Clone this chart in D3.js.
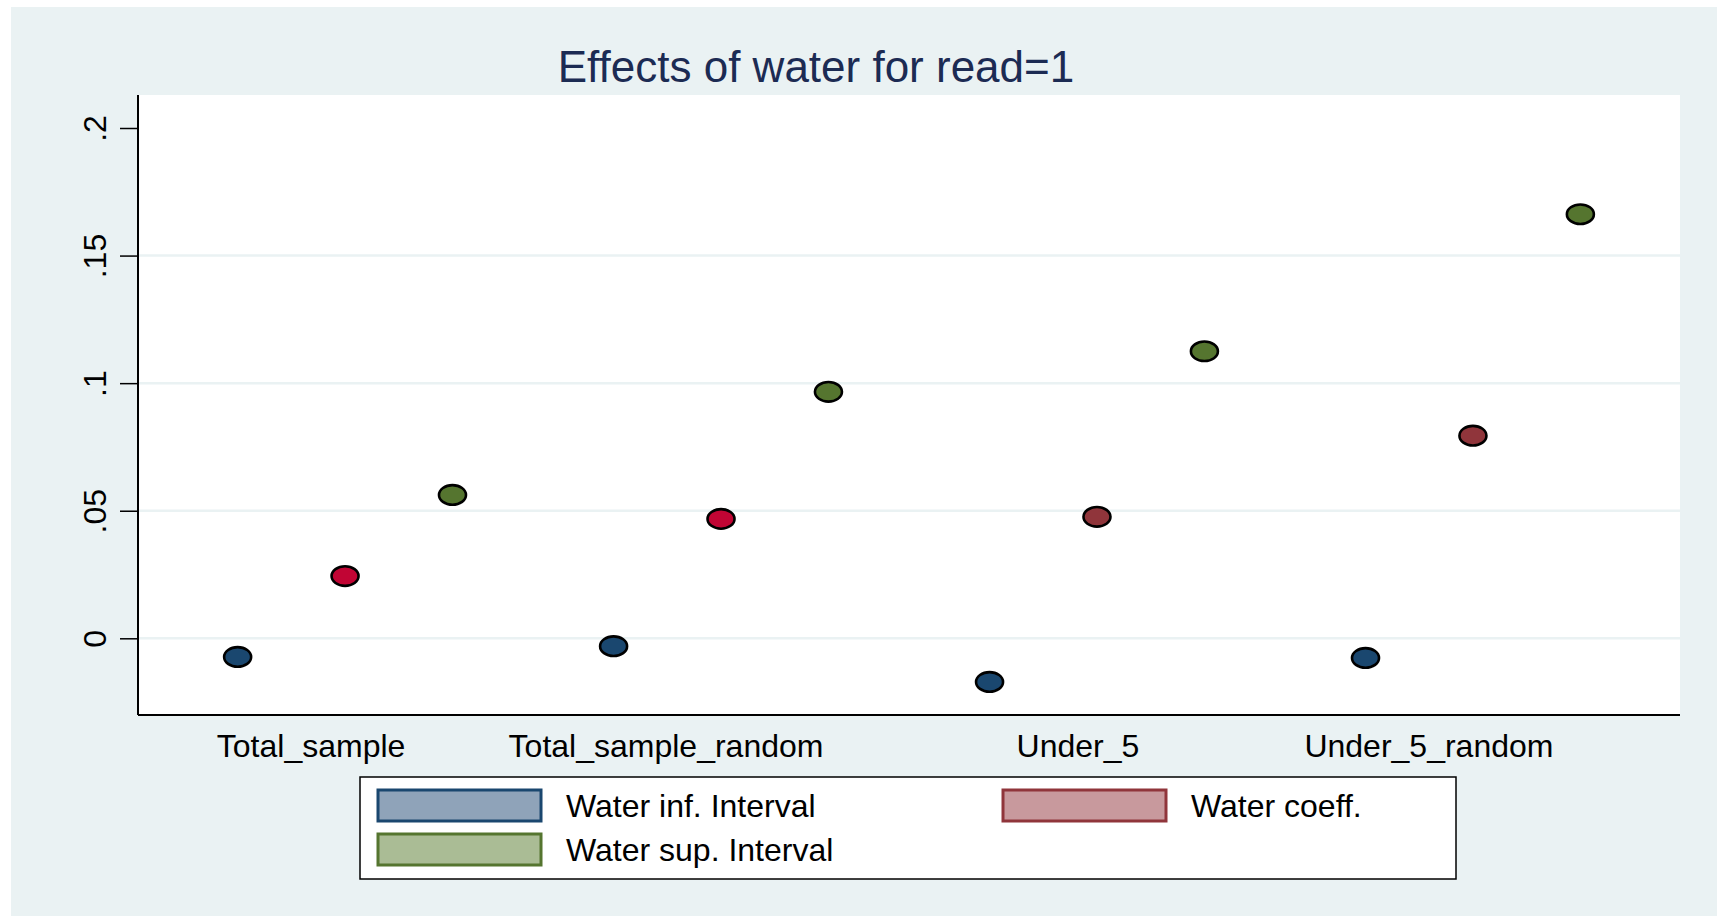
<!DOCTYPE html>
<html>
<head>
<meta charset="utf-8">
<script src="https://cdn.jsdelivr.net/npm/d3@7"></script>
<style>
  html, body { margin: 0; padding: 0; background: #ffffff; }
  svg { display: block; font-family: "Liberation Sans", Arial, sans-serif; }
</style>
</head>
<body>
<div id="plot"></div>
<script>
// Data
var groups = ["Total_sample", "Total_sample_random", "Under_5", "Under_5_random"];
var seriesNames = ["Water inf. Interval", "Water coeff.", "Water sup. Interval"];
var infValues = [-0.0073, -0.0031, -0.0171, -0.0077];
var coeffValues = [0.0244, 0.0468, 0.0476, 0.0794];
var supValues = [0.0562, 0.0966, 0.1125, 0.1662];
var yTicks = [0, 0.05, 0.1, 0.15, 0.2];
var yTickLabels = ["0", ".05", ".1", ".15", ".2"];
var title = "Effects of water for read=1";

// Constants
const W = 1717, H = 916;
const bgColour = "#EAF2F3";
const navy = "#1A476F";
const maroon = "#90353B";
const cranberry = "#C10534";
const forest = "#55752F";
const plot = { left: 138, right: 1680, top: 95, bottom: 715 };

var svg = d3.select("#plot").append("svg")
    .attr("width", W)
    .attr("height", H);

// Outer background
svg.append("rect")
    .attr("x", 11).attr("y", 7)
    .attr("width", W - 11).attr("height", H - 7)
    .attr("fill", bgColour);

// Plot area
svg.append("rect")
    .attr("x", plot.left).attr("y", plot.top)
    .attr("width", plot.right - plot.left).attr("height", plot.bottom - plot.top)
    .attr("fill", "#ffffff");

// Scales
var y = d3.scaleLinear().domain([0, 0.2]).range([638.3, 128]);

var xGroup = d3.scaleBand()
    .domain(groups)
    .range([plot.left, plot.right])
    .paddingInner(0.4285)
    .paddingOuter(0.265);

var xSeries = d3.scalePoint()
    .domain([0, 1, 2])
    .range([0, xGroup.bandwidth()]);

// Gridlines (Stata leaves out the one at the top edge)
svg.append("g").selectAll("line")
    .data(yTicks.filter(t => t < 0.2))
    .enter().append("line")
    .attr("x1", plot.left).attr("x2", plot.right)
    .attr("y1", d => y(d)).attr("y2", d => y(d))
    .attr("stroke", bgColour)
    .attr("stroke-width", 2.5);

// Y axis
var yAxis = d3.axisLeft(y)
    .tickValues(yTicks)
    .tickFormat((d, i) => yTickLabels[i])
    .tickSize(18)
    .tickPadding(0);

var gy = svg.append("g")
    .attr("transform", "translate(" + plot.left + ",0)")
    .call(yAxis);
gy.select(".domain").remove();
gy.selectAll(".tick line").attr("stroke", "#000").attr("stroke-width", 1.5);
gy.selectAll(".tick text")
    .attr("x", 0).attr("dy", 0)
    .attr("transform", "translate(-32,0) rotate(-90)")
    .attr("text-anchor", "middle")
    .attr("font-size", 32)
    .attr("fill", "#000");

svg.append("line")
    .attr("x1", plot.left).attr("x2", plot.left)
    .attr("y1", plot.top).attr("y2", plot.bottom)
    .attr("stroke", "#000").attr("stroke-width", 2);

svg.append("line")
    .attr("x1", plot.left).attr("x2", plot.right)
    .attr("y1", plot.bottom).attr("y2", plot.bottom)
    .attr("stroke", "#000").attr("stroke-width", 2);

// X labels (Stata puts them a bit off the group centre)
var labelShift = [-34, -55, -19, -44];
svg.append("g").selectAll("text")
    .data(groups)
    .enter().append("text")
    .attr("x", (d, i) => xGroup(d) + xGroup.bandwidth() / 2 + labelShift[i])
    .attr("y", 757)
    .attr("text-anchor", "middle")
    .attr("font-size", 32)
    .attr("fill", "#000")
    .text(d => d);

// Points
var points = [];
groups.forEach(function(g, i) {
    points.push({ group: g, s: 0, v: infValues[i], fill: navy });
    points.push({ group: g, s: 1, v: coeffValues[i], fill: i < 2 ? cranberry : maroon });
    points.push({ group: g, s: 2, v: supValues[i], fill: forest });
});

svg.append("g").selectAll("ellipse")
    .data(points)
    .enter().append("ellipse")
    .attr("cx", d => xGroup(d.group) + xSeries(d.s))
    .attr("cy", d => y(d.v))
    .attr("rx", 13.5)
    .attr("ry", 9.8)
    .attr("fill", d => d.fill)
    .attr("stroke", "#000")
    .attr("stroke-width", 2.6);

// Title
svg.append("text")
    .attr("x", 816).attr("y", 82)
    .attr("text-anchor", "middle")
    .attr("font-size", 44)
    .attr("fill", "#1C2B53")
    .text(title);

// Legend
var legend = svg.append("g");
legend.append("rect")
    .attr("x", 360).attr("y", 777)
    .attr("width", 1096).attr("height", 102)
    .attr("fill", "#fff")
    .attr("stroke", "#000").attr("stroke-width", 1.5);

var legendItems = [
    { name: seriesNames[0], fill: "#8FA3B9", stroke: navy, col: 0, row: 0 },
    { name: seriesNames[1], fill: "#C8999D", stroke: maroon, col: 1, row: 0 },
    { name: seriesNames[2], fill: "#AABC95", stroke: forest, col: 0, row: 1 }
];

var li = legend.selectAll(".item")
    .data(legendItems)
    .enter().append("g")
    .attr("class", "item")
    .attr("transform", d => "translate(" + (378 + d.col * 625) + "," + (790 + d.row * 44) + ")");

li.append("rect")
    .attr("width", 163).attr("height", 31)
    .attr("fill", d => d.fill)
    .attr("stroke", d => d.stroke)
    .attr("stroke-width", 3);

li.append("text")
    .attr("x", 188).attr("y", 27)
    .attr("font-size", 32)
    .attr("fill", "#000")
    .text(d => d.name);
</script>
</body>
</html>
